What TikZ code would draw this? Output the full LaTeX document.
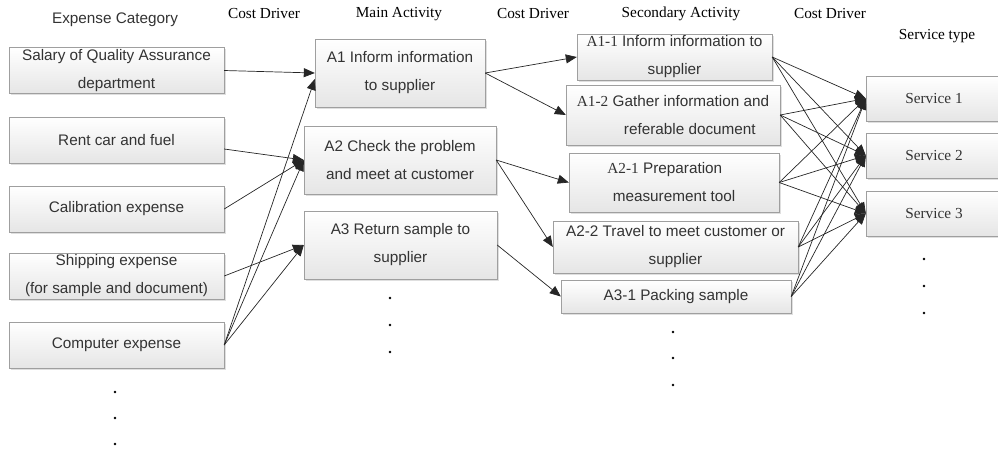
\documentclass[tikz,border=0pt]{standalone}
\usepackage{fontspec}
\setmainfont{Liberation Serif}
\setsansfont{Liberation Sans}
\usepackage{tikz}
\usetikzlibrary{arrows.meta, shadows}

\begin{document}
\begin{tikzpicture}[x=1pt, y=-1pt, >={Triangle[length=11pt, width=9pt]},
    caja/.style={draw=gray!75, top color=white, bottom color=gray!20,
        drop shadow={opacity=0.25, shadow xshift=1.5pt, shadow yshift=-1.5pt},
        font=\sffamily\fontsize{15.3}{28}\selectfont, text=black!80,
        align=center, inner sep=0pt},
    gasto/.style={caja, minimum width=215pt, minimum height=46pt},
    titulo/.style={font=\fontsize{15.3}{18}\selectfont},
    flecha/.style={->, black!85, line width=0.7pt}]

    % Marco
    \useasboundingbox (0,0) rectangle (998,448);
    \clip (0,0) rectangle (998,448);

    % Encabezados
    \node[titulo, font=\sffamily\fontsize{15.3}{18}\selectfont, text=black!80] (hexp) at (115,20) {Expense Category};
    \node[titulo] (hcd1) at (264,14) {Cost Driver};
    \node[titulo] (hmain) at (399,14) {Main Activity};
    \node[titulo] (hcd2) at (533,14) {Cost Driver};
    \node[titulo] (hsec) at (681,14) {Secondary Activity};
    \node[titulo] (hcd3) at (830,14) {Cost Driver};
    \node[titulo] (hserv) at (937,36) {Service type};

    % Categorias de gasto
    \node[gasto] (exp1) at (116.5,70.5) {Salary of Quality Assurance\\department};
    \node[gasto] (exp2) at (116.5,140) {Rent car and fuel};
    \node[gasto] (exp3) at (116.5,209) {Calibration expense};
    \node[gasto] (exp4) at (116.5,276) {Shipping expense\\(for sample and document)};
    \node[gasto] (exp5) at (116.5,345) {Computer expense};

    % Actividades principales
    \node[caja, minimum width=170pt, minimum height=68pt] (a1) at (400,73) {A1 Inform information\\to supplier};
    \node[caja, minimum width=192pt, minimum height=68pt] (a2) at (400,160) {A2 Check the problem\\and meet at customer};
    \node[caja, minimum width=193pt, minimum height=68pt] (a3) at (400.5,245) {A3 Return sample to\\supplier};

    % Actividades secundarias
    \node[caja, minimum width=195pt, minimum height=46pt] (a11) at (674.5,57) {{\rmfamily A1-1} Inform information to\\supplier};
    \node[caja, minimum width=214pt, minimum height=60pt] (a12) at (673,115) {{\rmfamily A1-2} Gather information and\\\hspace*{2.2em}referable document};
    \node[caja, minimum width=210pt, minimum height=59pt] (a21) at (674,182.5) {{\rmfamily A2-1} Preparation\hspace*{1.2em}\\measurement tool};
    \node[caja, minimum width=245pt, minimum height=52pt] (a22) at (675.5,247) {A2-2 Travel to meet customer or\\supplier};
    \node[caja, minimum width=230pt, minimum height=33pt] (a31) at (676,296.5) {A3-1 Packing sample};

    % Servicios
    \node[caja, font=\rmfamily\fontsize{15.3}{18}\selectfont, minimum width=136pt, minimum height=45pt] (s1) at (934,98.5) {Service 1};
    \node[caja, font=\rmfamily\fontsize{15.3}{18}\selectfont, minimum width=136pt, minimum height=45pt] (s2) at (934,155.5) {Service 2};
    \node[caja, font=\rmfamily\fontsize{15.3}{18}\selectfont, minimum width=136pt, minimum height=45pt] (s3) at (934,213.5) {Service 3};

    % Gastos -> actividades principales
    \draw[flecha] (exp1.east) -- (a1.west);
    \draw[flecha] ([yshift=-9pt]exp2.east) -- (a2.west);
    \draw[flecha] (exp3.east) -- (a2.west);
    \draw[flecha] (exp4.east) -- (a3.west);
    \draw[flecha] (exp5.east) -- ([yshift=-6pt]a1.west);
    \draw[flecha] (exp5.east) -- (a2.west);
    \draw[flecha] (exp5.east) -- (a3.west);

    % Principales -> secundarias
    \draw[flecha] (a1.east) -- (a11.west);
    \draw[flecha] (a1.east) -- (a12.west);
    \draw[flecha] (a2.east) -- (a21.west);
    \draw[flecha] (a2.east) -- (a22.west);
    \draw[flecha] (a3.east) -- (a31.west);

    % Secundarias -> servicios
    \foreach \src in {a11, a12, a21, a22, a31}{
        \foreach \dst in {s1, s2, s3}{
            \draw[flecha] (\src.east) -- (\dst.west);
        }
    }

    % Puntos suspensivos
    \foreach \px/\py in {115/392, 115/418, 115/444, 390/298, 390/325, 390/352,
        673/332, 673/358, 673/385, 924/259, 924/286, 924/313}{
        \fill[black] (\px,\py) circle (1.4);
    }

\end{tikzpicture}
\end{document}
